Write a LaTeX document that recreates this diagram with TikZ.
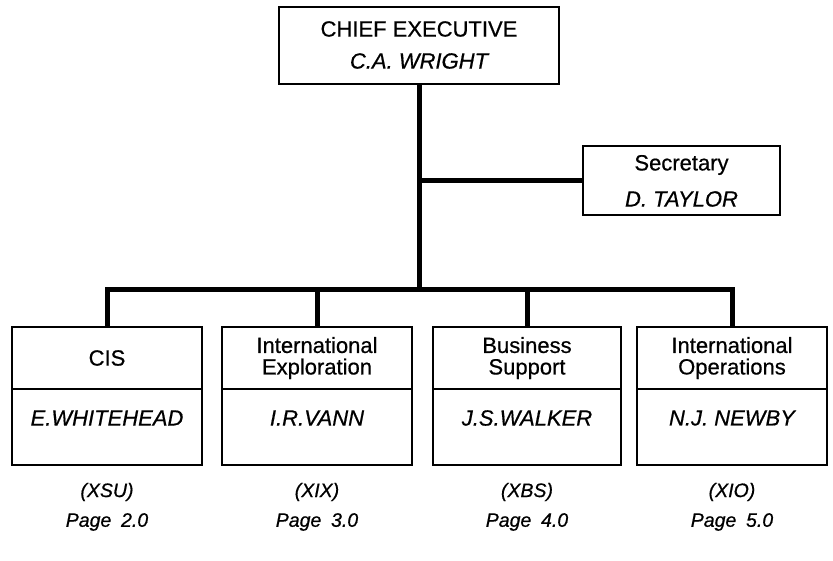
\documentclass[tikz,border=0pt]{standalone}
\usepackage{fontspec}
\setmainfont{Liberation Sans}[FakeBold=0.6]
\begin{document}
\begin{tikzpicture}[x=1pt,y=-1pt,
  box/.style={draw,line width=2.8pt,inner sep=0pt,align=center},
  txt/.style={inner sep=0pt,align=center,font=\fontsize{22}{21.5}\selectfont},
  headname/.style={inner sep=0pt,align=center,font=\fontsize{22}{21.5}\selectfont\itshape},
  link/.style={line width=5pt},
  foot/.style={inner sep=0pt,font=\fontsize{19.5}{20}\selectfont\itshape}]
\useasboundingbox (0,0) rectangle (833,561);

% top of the chart
\node[box,minimum width=280,minimum height=77] (chief) at (419,45.5) {};
\node[txt] (chiefT) at (419,29) {CHIEF EXECUTIVE};
\node[headname] (chiefN) at (419,61) {C.A. WRIGHT};

\node[box,minimum width=197,minimum height=69] (sec) at (681.5,180.5) {};
\node[txt] (secT) at (681.5,165) {Secretary};
\node[headname] (secN) at (681.5,199) {D. TAYLOR};

% divisions: upper part = title, lower part = head
\foreach \i/\x/\w/\t/\n/\c/\p in {
  1/107/190/CIS/E.WHITEHEAD/XSU/2.0,
  2/317/190/International\\Exploration/I.R.VANN/XIX/3.0,
  3/527/188/Business\\Support/J.S.WALKER/XBS/4.0,
  4/732/190/International\\Operations/N.J. NEWBY/XIO/5.0}{
  \node[box,minimum width=\w,minimum height=62] (d\i) at (\x,358) {};
  \node[box,minimum width=\w,minimum height=76] (h\i) at (\x,427) {};
  \node[txt] (dT\i) at (d\i.center) {\t};
  \node[headname] (hN\i) at (\x,418) {\n};
  \node[foot] (code\i) at (\x,492) {(\c)};
  \node[foot] (page\i) at (\x,522) {Page\hspace{0.5em}\p};
}

% connectors
\coordinate (sj) at (chief.south |- sec.west);
\coordinate (bar) at (chief.south |- 0,290);
\draw[link] (chief.south) -- (bar);
\draw[link] (sj) -- (sec.west);
\draw[link,line cap=rect] (d1.north |- bar) -- (d4.north |- bar);
\foreach \i in {1,...,4}
  \draw[link] (d\i.north |- bar) -- (d\i.north);
\end{tikzpicture}
\end{document}
